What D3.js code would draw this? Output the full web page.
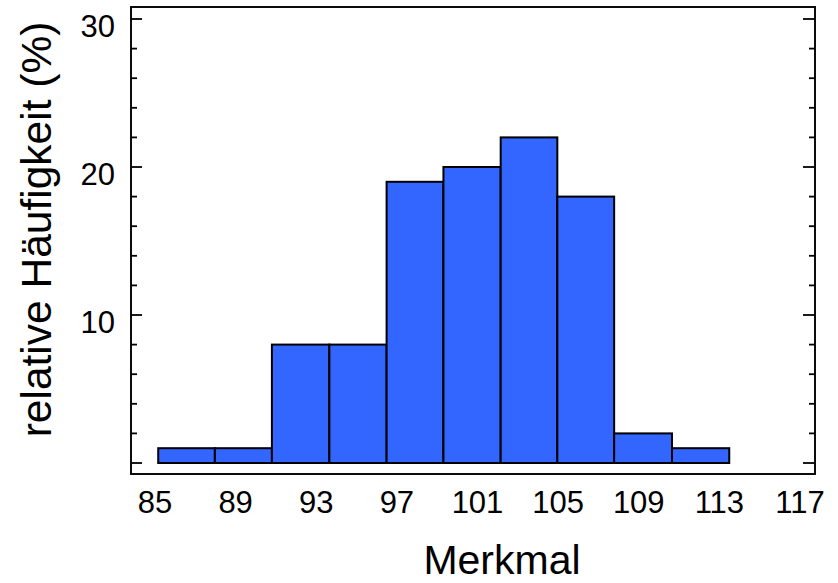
<!DOCTYPE html>
<html><head><meta charset="utf-8">
<script src="https://cdn.jsdelivr.net/npm/d3@7"></script>
<style>body{margin:0;background:#fff}svg{display:block}text{font-family:"Liberation Sans",Arial,sans-serif;fill:#000}</style>
</head><body>
<svg id="c" width="838" height="583"></svg>
<script>
// Data
const binEdges = [85.16, 87.97, 90.8, 93.65, 96.49, 99.31, 102.15, 104.96, 107.78, 110.65, 113.49];
const percents = [1, 1, 8, 8, 19, 20, 22, 18, 2, 1];
const xTickLabels = [85, 89, 93, 97, 101, 105, 109, 113, 117];
const yMajorTicks = [0, 10, 20, 30];
const yLabelTicks = [10, 20, 30];
const yMinorTicks = [2, 4, 6, 8, 12, 14, 16, 18, 22, 24, 26, 28];
const xTitle = "Merkmal";
const yTitle = "relative Häufigkeit (%)";

const svg = d3.select("#c");
const frame = {left: 131, right: 815, top: 7, bottom: 474};
const x = d3.scaleLinear().domain([85, 117]).range([155, 800]);
const y = d3.scaleLinear().domain([0, 30]).range([463, 19]);

const bars = percents.map((v, i) => ({x0: binEdges[i], x1: binEdges[i + 1], v}));

svg.append("g").selectAll("rect").data(bars).join("rect")
  .attr("x", d => x(d.x0)).attr("width", d => x(d.x1) - x(d.x0))
  .attr("y", d => y(d.v)).attr("height", d => y(0) - y(d.v))
  .attr("fill", "#3366ff").attr("stroke", "#000").attr("stroke-width", 2);

// frame
svg.append("rect").attr("x", frame.left).attr("y", frame.top)
  .attr("width", frame.right - frame.left).attr("height", frame.bottom - frame.top)
  .attr("fill", "none").attr("stroke", "#000").attr("stroke-width", 1.9);

// ticks left and right
const tg = svg.append("g").attr("stroke", "#000").attr("stroke-width", 1.8);
yMajorTicks.forEach(t => {
  tg.append("line").attr("x1", frame.left).attr("x2", frame.left + 11).attr("y1", y(t)).attr("y2", y(t));
  tg.append("line").attr("x1", frame.right).attr("x2", frame.right - 12).attr("y1", y(t)).attr("y2", y(t));
});
yMinorTicks.forEach(t => {
  tg.append("line").attr("x1", frame.left).attr("x2", frame.left + 6).attr("y1", y(t)).attr("y2", y(t));
  tg.append("line").attr("x1", frame.right).attr("x2", frame.right - 6).attr("y1", y(t)).attr("y2", y(t));
});

// y labels
svg.append("g").selectAll("text").data(yLabelTicks).join("text")
  .attr("x", 115).attr("y", d => y(d) + 17.5)
  .attr("text-anchor", "end").attr("font-size", 31).text(d => d);

// x labels
svg.append("g").selectAll("text").data(xTickLabels).join("text")
  .attr("x", d => x(d)).attr("y", 513)
  .attr("text-anchor", "middle").attr("font-size", 31).text(d => d);

// titles
svg.append("text").attr("x", 502).attr("y", 574).attr("text-anchor", "middle")
  .attr("font-size", 41).text(xTitle);
svg.append("text").attr("transform", "translate(51,229.5) rotate(-90)")
  .attr("text-anchor", "middle").attr("font-size", 42.5).text(yTitle);
</script>
</body></html>
